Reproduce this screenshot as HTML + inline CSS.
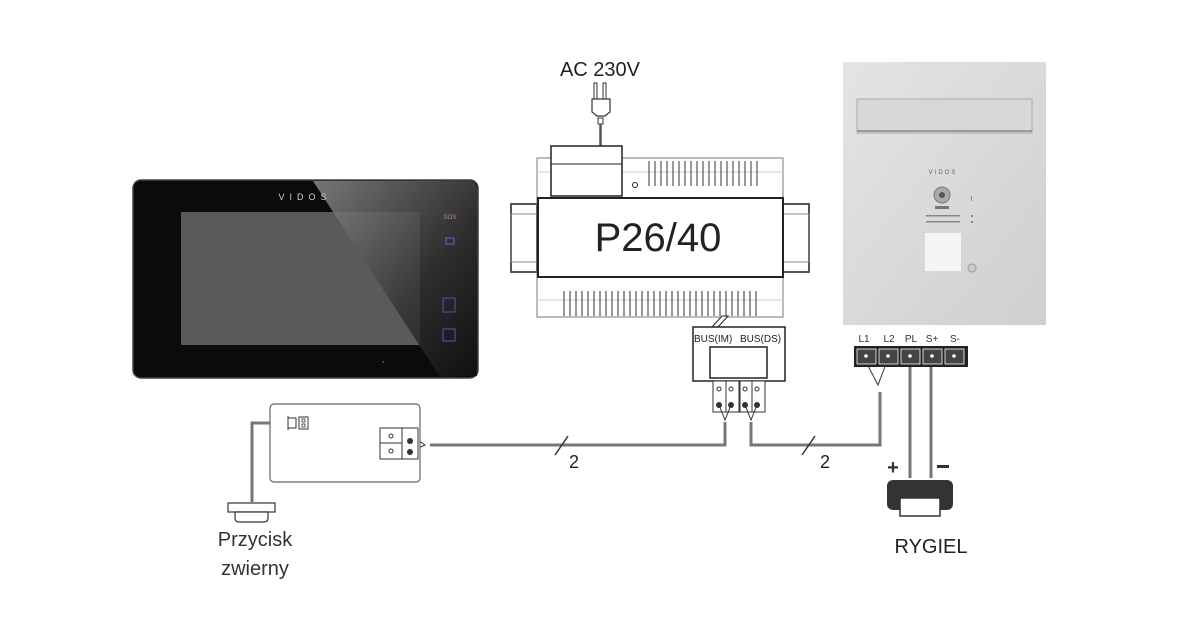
<!DOCTYPE html>
<html><head><meta charset="utf-8"><style>
html,body{margin:0;padding:0;background:#fff;}
svg{display:block;font-family:"Liberation Sans",sans-serif;}
</style></head><body>
<svg width="1200" height="624" viewBox="0 0 1200 624" xmlns="http://www.w3.org/2000/svg">
<defs>
<linearGradient id="gl" x1="0" y1="0" x2="1" y2="1">
<stop offset="0" stop-color="#8a8a8a"/><stop offset="0.6" stop-color="#333"/><stop offset="1" stop-color="#111"/>
</linearGradient>
<linearGradient id="ds" x1="0" y1="0" x2="1" y2="1">
<stop offset="0" stop-color="#e4e4e4"/><stop offset="1" stop-color="#cfcfcf"/>
</linearGradient>
</defs>
<!-- Monitor -->
<rect x="133" y="180" width="345" height="198" rx="8" fill="#0b0b0b" stroke="#444" stroke-width="1.5"/>
<rect x="181" y="212" width="239" height="133" fill="#5a5a5a"/>
<path d="M313,181 L470,181 Q477,182 477,190 L477,376 L440,377 Z" fill="url(#gl)" opacity="0.85"/>
<text x="305" y="200" font-size="9" fill="#ccc" text-anchor="middle" letter-spacing="5">VIDOS</text>
<text x="450" y="219" font-size="6" fill="#b88" text-anchor="middle">SOS</text>
<rect x="446" y="238" width="8" height="6" fill="none" stroke="#66c" stroke-width="1"/>
<rect x="443" y="298" width="12" height="14" fill="none" stroke="#55a" stroke-width="1"/>
<rect x="443" y="329" width="12" height="12" fill="none" stroke="#55a" stroke-width="1"/>
<circle cx="383" cy="362" r="1" fill="#555"/>
<!-- Plug -->
<text x="600" y="76" font-size="20" fill="#222" text-anchor="middle">AC 230V</text>
<rect x="594" y="83" width="3" height="16" fill="none" stroke="#333"/>
<rect x="603" y="83" width="3" height="16" fill="none" stroke="#333"/>
<path d="M592,99 L610,99 L610,112 L605,116 L597,116 L592,112 Z" fill="#fff" stroke="#333" stroke-width="1.2"/>
<rect x="598" y="118" width="5" height="6" fill="none" stroke="#333"/>
<line x1="600.5" y1="124" x2="600.5" y2="146" stroke="#555" stroke-width="2.5"/>
<!-- Power supply -->
<rect x="511" y="204" width="26" height="68" fill="#fff" stroke="#555" stroke-width="2"/>
<rect x="511" y="214" width="26" height="48" fill="none" stroke="#888" stroke-width="1"/>
<rect x="783" y="204" width="26" height="68" fill="#fff" stroke="#555" stroke-width="2"/>
<rect x="783" y="214" width="26" height="48" fill="none" stroke="#888" stroke-width="1"/>
<rect x="537" y="158" width="246" height="159" fill="#fff" stroke="#777" stroke-width="1"/>
<line x1="537" y1="172" x2="783" y2="172" stroke="#ccc"/>
<line x1="537" y1="300" x2="783" y2="300" stroke="#ccc"/>
<rect x="551" y="146" width="71" height="50" fill="#fff" stroke="#222" stroke-width="1.5"/>
<line x1="551" y1="164" x2="622" y2="164" stroke="#222" stroke-width="1"/>
<circle cx="635" cy="185" r="2.5" fill="none" stroke="#222"/>
<g stroke="#333" stroke-width="1" fill="none">
<path d="M649,161 v25 M655,161 v25 M661,161 v25 M667,161 v25 M673,161 v25 M679,161 v25 M685,161 v25 M691,161 v25 M697,161 v25 M703,161 v25 M709,161 v25 M715,161 v25 M721,161 v25 M727,161 v25 M733,161 v25 M739,161 v25 M745,161 v25 M751,161 v25 M757,161 v25"/>
<path d="M564,291 v25 M570,291 v25 M576,291 v25 M582,291 v25 M588,291 v25 M594,291 v25 M600,291 v25 M606,291 v25 M612,291 v25 M618,291 v25 M624,291 v25 M630,291 v25 M636,291 v25 M642,291 v25 M648,291 v25 M654,291 v25 M660,291 v25 M666,291 v25 M672,291 v25 M678,291 v25 M684,291 v25 M690,291 v25 M696,291 v25 M702,291 v25 M708,291 v25 M714,291 v25 M720,291 v25 M726,291 v25 M732,291 v25 M738,291 v25 M744,291 v25 M750,291 v25 M756,291 v25"/>
</g>
<rect x="538" y="198" width="245" height="79" fill="#fff" stroke="#222" stroke-width="2"/>
<text x="658" y="251" font-size="40" fill="#222" text-anchor="middle">P26/40</text>
<!-- BUS box -->
<path d="M712,327 L722,316 L728,316 L718,327" fill="#fff" stroke="#222" stroke-width="1"/>
<rect x="693" y="327" width="92" height="54" fill="#fff" stroke="#222" stroke-width="1.5"/>
<text x="694" y="342" font-size="10" fill="#222">BUS(IM)</text>
<text x="740" y="342" font-size="10" fill="#222">BUS(DS)</text>
<rect x="710" y="347" width="57" height="31" fill="#fff" stroke="#222" stroke-width="1.5"/>
<rect x="713" y="381" width="26" height="31" fill="#fff" stroke="#333"/>
<rect x="740" y="381" width="25" height="31" fill="#fff" stroke="#333"/>
<line x1="726" y1="381" x2="726" y2="412" stroke="#333"/><line x1="752" y1="381" x2="752" y2="412" stroke="#333"/>
<g fill="none" stroke="#333"><circle cx="719" cy="389" r="2"/><circle cx="731" cy="389" r="2"/><circle cx="745" cy="389" r="2"/><circle cx="757" cy="389" r="2"/></g>
<g fill="#333"><circle cx="719" cy="405" r="3"/><circle cx="731" cy="405" r="3"/><circle cx="745" cy="405" r="3"/><circle cx="757" cy="405" r="3"/></g>
<!-- wires -->
<g fill="none" stroke="#777" stroke-width="3">
<path d="M725,422 L725,445 L430,445"/>
<path d="M751,422 L751,445 L880,445 L880,392"/>
<path d="M910,366 L910,478 M931,366 L931,478"/>
<path d="M288,423 L252,423 L252,502"/>
</g>
<g fill="none" stroke="#333" stroke-width="1">
<path d="M719,405 L725,420 L731,405"/><path d="M745,405 L751,420 L757,405"/>
<path d="M863,356 L878,385 L889,356"/>
<path d="M410,434 L425,445 L410,452"/>
</g>
<line x1="555" y1="455" x2="568" y2="436" stroke="#333" stroke-width="1.5"/>
<line x1="802" y1="455" x2="815" y2="436" stroke="#333" stroke-width="1.5"/>
<text x="574" y="468" font-size="18" fill="#222" text-anchor="middle">2</text>
<text x="825" y="468" font-size="18" fill="#222" text-anchor="middle">2</text>
<!-- Intercom box -->
<rect x="270" y="404" width="150" height="78" rx="4" fill="#fff" stroke="#666" stroke-width="1.2"/>
<rect x="380" y="428" width="38" height="31" fill="#fff" stroke="#333"/>
<line x1="402" y1="428" x2="402" y2="459" stroke="#333"/><line x1="380" y1="443" x2="402" y2="443" stroke="#333"/>
<g fill="none" stroke="#333"><circle cx="391" cy="436" r="2"/><circle cx="391" cy="451" r="2"/></g>
<g fill="#333"><circle cx="410" cy="441" r="3"/><circle cx="410" cy="452" r="3"/></g>
<path d="M288,416 v14 M288,418 h8 v10 h-8 M299,417 h9 v12 h-9 z" fill="none" stroke="#333"/>
<rect x="302" y="419" width="3" height="3" fill="none" stroke="#333" stroke-width="0.8"/>
<rect x="302" y="424" width="3" height="3" fill="none" stroke="#333" stroke-width="0.8"/>
<rect x="228" y="503" width="47" height="9" fill="#fff" stroke="#333" stroke-width="1.2"/>
<path d="M235,512 L268,512 L268,518 Q268,522 264,522 L239,522 Q235,522 235,518 Z" fill="#fff" stroke="#333" stroke-width="1.2"/>
<text x="255" y="546" font-size="20" fill="#333" text-anchor="middle">Przycisk</text>
<text x="255" y="575" font-size="20" fill="#333" text-anchor="middle">zwierny</text>
<!-- Door station -->
<rect x="843" y="62" width="203" height="263" fill="url(#ds)"/>
<rect x="857" y="99" width="175" height="34" fill="#d8d8d8" stroke="#aaa" stroke-width="1"/>
<line x1="857" y1="131" x2="1032" y2="131" stroke="#999" stroke-width="2"/>
<text x="943" y="174" font-size="6" fill="#666" text-anchor="middle" letter-spacing="2">VIDOS</text>
<circle cx="942" cy="195" r="8" fill="#aaa" stroke="#777"/>
<circle cx="942" cy="195" r="3" fill="#555"/>
<rect x="935" y="206" width="14" height="3" fill="#777"/>
<g fill="#888">
<rect x="926" y="215" width="34" height="1.5"/><rect x="926" y="221" width="34" height="1.5"/>
<rect x="971" y="196" width="1" height="5"/><rect x="971" y="215" width="2" height="2"/><rect x="971" y="221" width="2" height="2"/>
</g>
<rect x="925" y="233" width="36" height="38" fill="#f5f5f5"/>
<circle cx="972" cy="268" r="4" fill="#ccc" stroke="#999"/>
<!-- Lock terminals -->
<g font-size="10" fill="#333" text-anchor="middle">
<text x="864" y="342">L1</text><text x="889" y="342">L2</text><text x="911" y="342">PL</text><text x="932" y="342">S+</text><text x="955" y="342">S-</text>
</g>
<rect x="854" y="346" width="114" height="21" fill="#222"/>
<g fill="#444" stroke="#fff" stroke-width="0.8">
<rect x="857" y="349" width="19" height="15"/><rect x="879" y="349" width="19" height="15"/><rect x="901" y="349" width="19" height="15"/><rect x="923" y="349" width="19" height="15"/><rect x="945" y="349" width="19" height="15"/>
</g>
<g fill="#fff"><circle cx="866" cy="356" r="1.8"/><circle cx="888" cy="356" r="1.8"/><circle cx="910" cy="356" r="1.8"/><circle cx="932" cy="356" r="1.8"/><circle cx="954" cy="356" r="1.8"/></g>
<text x="893" y="474" font-size="20" font-weight="bold" fill="#333" text-anchor="middle">+</text>
<rect x="937" y="465" width="12" height="3" fill="#333"/>
<rect x="887" y="480" width="66" height="30" rx="6" fill="#333"/>
<rect x="900" y="498" width="40" height="18" fill="#fff" stroke="#333" stroke-width="1.5"/>
<text x="931" y="553" font-size="20" fill="#222" text-anchor="middle">RYGIEL</text>
</svg>
</body></html>
